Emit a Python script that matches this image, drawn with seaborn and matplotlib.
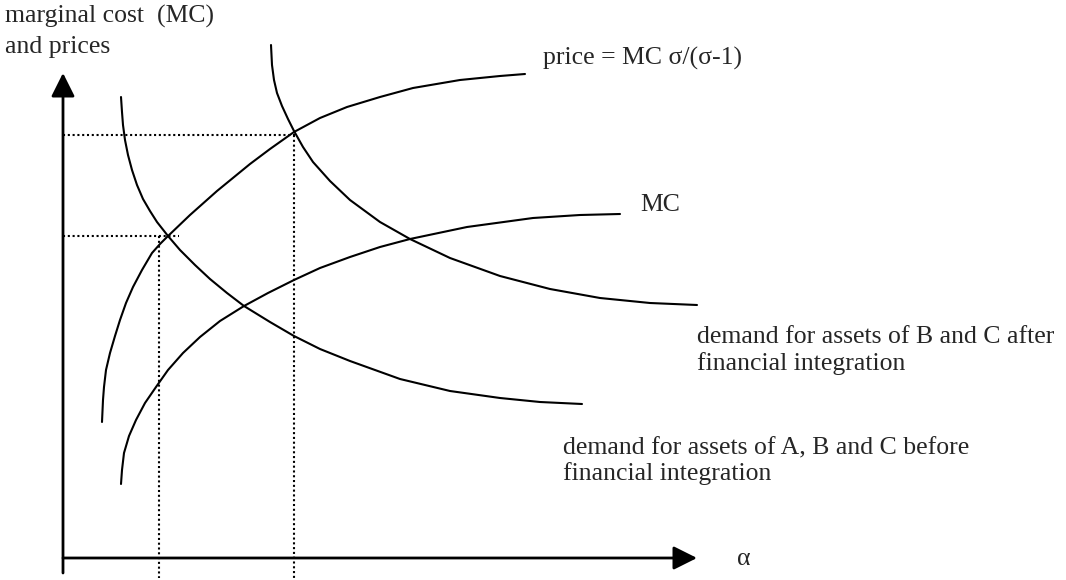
import matplotlib
matplotlib.use("Agg")
import matplotlib.pyplot as plt
import seaborn as sns
import pandas as pd

# curve points (x = alpha, y = price, in picture units, y grows downward)
price_x = [102, 103, 104, 106, 110, 115, 120, 126, 133, 142, 152, 160, 167, 190, 217, 250,
           270, 294, 320, 347, 380, 413, 460, 500, 525]
price_y = [422, 400, 387, 370, 353, 336, 320, 303, 287, 270, 253, 244, 237, 215, 191, 164,
           149, 132, 118, 107, 97, 88, 80, 76, 74]

mc_x = [121, 122, 124, 129, 136, 145, 156, 168, 183, 200, 220, 244, 268, 294, 320, 350,
        380, 410, 467, 533, 580, 620]
mc_y = [484, 470, 453, 436, 420, 403, 387, 370, 353, 337, 321, 306, 293, 280, 268, 257,
        247, 239, 227, 218, 215, 214]

before_x = [121, 122, 123, 125, 128, 132, 137, 143, 150, 157, 168, 180, 195, 210, 227, 244,
            270, 294, 320, 350, 400, 450, 500, 540, 582]
before_y = [97, 112, 125, 140, 155, 170, 185, 199, 211, 222, 236, 250, 265, 279, 293, 306,
            322, 336, 349, 361, 379, 391, 398, 402, 404]

after_x = [271, 272, 274, 277, 282, 288, 294, 303, 313, 330, 350, 380, 410, 450, 500, 550,
           600, 650, 697]
after_y = [45, 65, 80, 93, 106, 119, 131, 147, 162, 181, 200, 222, 239, 258, 276, 289,
           298, 303, 305]

# equilibria marked by dotted guides
eq_alpha = [159, 294]
eq_price = [236, 135]
guide_end = [179, 295]

curves = pd.concat([
    pd.DataFrame({"alpha": price_x, "p": price_y, "curve": "price"}),
    pd.DataFrame({"alpha": mc_x, "p": mc_y, "curve": "MC"}),
    pd.DataFrame({"alpha": before_x, "p": before_y, "curve": "before"}),
    pd.DataFrame({"alpha": after_x, "p": after_y, "curve": "after"}),
])

sns.set_style("white")
plt.rcParams["font.family"] = ["Liberation Serif", "DejaVu Serif"]

fig = plt.figure(figsize=(10.66, 5.8), dpi=100)
ax = fig.add_axes([0, 0, 1, 1])
ax.set_xlim(0, 1066)
ax.set_ylim(580, 0)
ax.axis("off")

for name, grp in curves.groupby("curve", sort=False):
    sns.lineplot(data=grp, x="alpha", y="p", sort=False, estimator=None,
                 color="black", linewidth=1.5, ax=ax)

# dotted guides
for a, p, e in zip(eq_alpha, eq_price, guide_end):
    ax.plot([63, e], [p, p], color="black", linestyle=(0, (1, 1.3)), linewidth=1.5)
    ax.plot([a, a], [p, 578], color="black", linestyle=(0, (1, 1.3)), linewidth=1.5)

# axes with arrows
arrow = dict(arrowstyle="-|>", mutation_scale=36, lw=2, color="black",
             shrinkA=0, shrinkB=0)
ax.annotate("", xy=(63, 73), xytext=(63, 573), arrowprops=arrow)
ax.annotate("", xy=(697, 558), xytext=(63, 558), arrowprops=arrow)

fs = 18.5
ax.text(5, 23, "marginal cost  (MC)", fontsize=fs, va="baseline")
ax.text(5, 53, "and prices", fontsize=fs, va="baseline")
ax.text(543, 65, "price = MC σ/(σ-1)", fontsize=fs, va="baseline")
ax.text(640, 211, "MC", fontsize=fs, va="baseline")
ax.text(697, 343, "demand for assets of B and C after", fontsize=fs, va="baseline")
ax.text(697, 370, "financial integration", fontsize=fs, va="baseline")
ax.text(563, 454, "demand for assets of A, B and C before", fontsize=fs, va="baseline")
ax.text(563, 480, "financial integration", fontsize=fs, va="baseline")
ax.text(737, 565, "α", fontsize=fs, va="baseline")

fig.savefig("out.png", dpi=100)
